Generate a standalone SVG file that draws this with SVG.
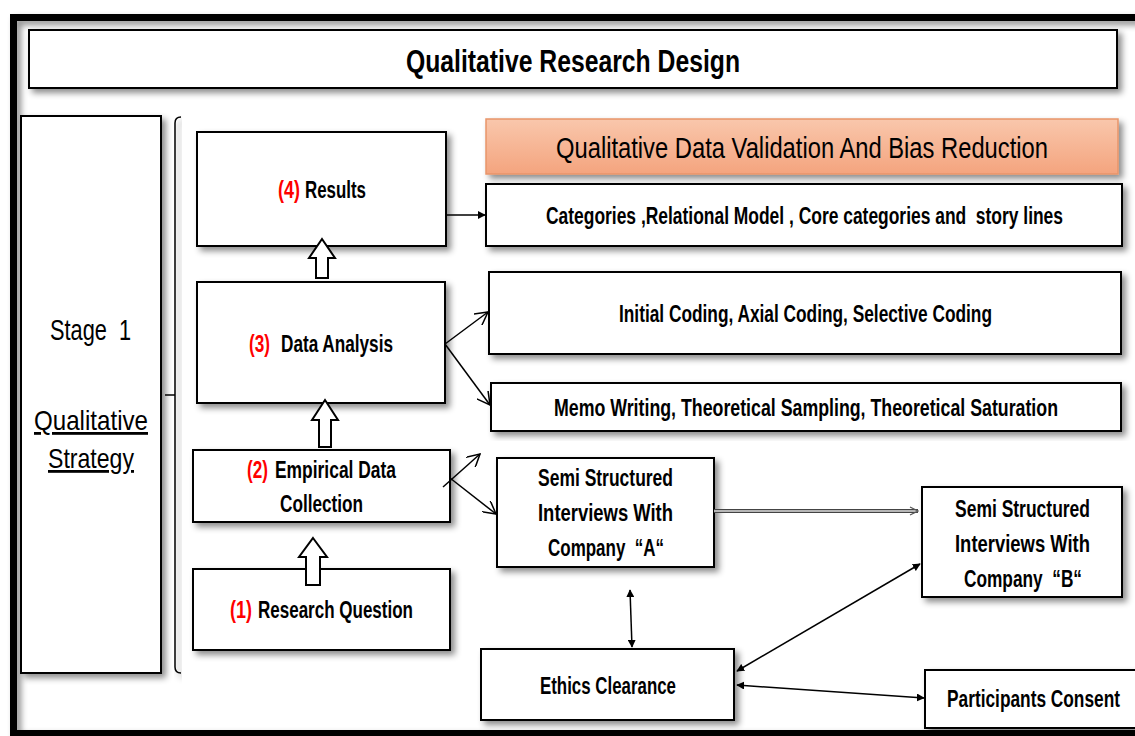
<svg xmlns="http://www.w3.org/2000/svg" width="1135" height="736" viewBox="0 0 1135 736">
<defs>
<style>
.box{fill:#fff;stroke:#000;stroke-width:2;filter:url(#sh)}
.t{font-family:"Liberation Sans Narrow","Liberation Sans",sans-serif;font-weight:bold;font-size:23px;fill:#000;white-space:pre}
.r{fill:#ff0000}
.n{font-weight:normal}
.ln{stroke:#000;stroke-width:1.5;fill:none}
.hol{fill:#fff;stroke:#000;stroke-width:2}
</style>
<filter id="sh" x="-10%" y="-10%" width="125%" height="130%">
<feDropShadow dx="4" dy="4" stdDeviation="3" flood-color="#000" flood-opacity="0.45"/>
</filter>
<linearGradient id="og" x1="0" y1="0" x2="0" y2="1">
<stop offset="0" stop-color="#f9c7ac"/>
<stop offset="1" stop-color="#f4a47e"/>
</linearGradient>
<marker id="fa" viewBox="0 0 10 10" refX="9" refY="5" markerWidth="8" markerHeight="8" markerUnits="userSpaceOnUse" orient="auto-start-reverse">
<path d="M0,0 L10,5 L0,10 z" fill="#000"/>
</marker>
<marker id="oa" viewBox="0 0 12 12" refX="11" refY="6" markerWidth="14" markerHeight="14" markerUnits="userSpaceOnUse" orient="auto">
<path d="M0,0 L11,6 L0,12" fill="none" stroke="#000" stroke-width="1.3"/>
</marker>
<marker id="da" viewBox="0 0 10 10" refX="9" refY="5" markerWidth="10" markerHeight="10" markerUnits="userSpaceOnUse" orient="auto">
<path d="M1,1 L9,5 L1,9" fill="none" stroke="#555" stroke-width="1.2"/>
</marker>
</defs>
<rect width="1135" height="736" fill="#fff"/>
<rect x="13.5" y="17.5" width="1140" height="716" fill="none" stroke="#000" stroke-width="7" filter="url(#sh)"/>

<g id="title">
<rect class="box" x="29" y="30" width="1088" height="58"/>
<text class="t" x="406" y="72" style="font-size:31px" textLength="334" lengthAdjust="spacingAndGlyphs">Qualitative Research Design</text>
</g>

<g id="stage1">
<rect class="box" x="21" y="116" width="140" height="557"/>
<text class="t n" x="50" y="340" style="font-size:29px" textLength="81" lengthAdjust="spacingAndGlyphs">Stage  1</text>
<text class="t n" x="34" y="430" style="font-size:28px" textLength="114" lengthAdjust="spacingAndGlyphs" text-decoration="underline">Qualitative</text>
<text class="t n" x="48" y="468" style="font-size:28px" textLength="86" lengthAdjust="spacingAndGlyphs" text-decoration="underline">Strategy</text>
</g>

<g id="bracket">
<path d="M181,117 Q175,117 175,123 L175,667 Q175,673 181,673" class="ln" stroke-width="2" filter="url(#sh)"/>
<line x1="165" y1="395" x2="175" y2="395" class="ln" stroke-width="2"/>
</g>

<g id="results">
<rect class="box" x="197" y="132" width="249" height="114"/>
<text class="t r" x="278" y="198" textLength="22" lengthAdjust="spacingAndGlyphs">(4)</text>
<text class="t" x="305" y="198" textLength="61" lengthAdjust="spacingAndGlyphs">Results</text>
</g>

<g id="data-analysis">
<rect class="box" x="197" y="282" width="248" height="121"/>
<text class="t r" x="249" y="352" textLength="21" lengthAdjust="spacingAndGlyphs">(3)</text>
<text class="t" x="281" y="352" textLength="112" lengthAdjust="spacingAndGlyphs">Data Analysis</text>
</g>

<g id="empirical">
<rect class="box" x="193" y="450" width="257" height="72"/>
<text class="t r" x="247" y="478" textLength="21" lengthAdjust="spacingAndGlyphs">(2)</text>
<text class="t" x="275" y="478" textLength="121" lengthAdjust="spacingAndGlyphs">Empirical Data</text>
<text class="t" x="280" y="512" textLength="83" lengthAdjust="spacingAndGlyphs">Collection</text>
</g>

<g id="research-question">
<rect class="box" x="193" y="569" width="257" height="81"/>
<text class="t r" x="230" y="618" textLength="22" lengthAdjust="spacingAndGlyphs">(1)</text>
<text class="t" x="258" y="618" textLength="155" lengthAdjust="spacingAndGlyphs">Research Question</text>
</g>

<g id="validation-header">
<rect x="486" y="119" width="632" height="55" fill="url(#og)" stroke="#e8956a" stroke-width="1.5" filter="url(#sh)"/>
<text class="t n" x="556" y="158" style="font-size:30px" textLength="492" lengthAdjust="spacingAndGlyphs">Qualitative Data Validation And Bias Reduction</text>
</g>

<g id="categories">
<rect class="box" x="486" y="184" width="636" height="62"/>
<text class="t" x="546" y="224" textLength="517" lengthAdjust="spacingAndGlyphs">Categories ,Relational Model , Core categories and  story lines</text>
</g>

<g id="coding">
<rect class="box" x="489" y="272" width="632" height="82"/>
<text class="t" x="619" y="322" textLength="373" lengthAdjust="spacingAndGlyphs">Initial Coding, Axial Coding, Selective Coding</text>
</g>

<g id="memo">
<rect class="box" x="491" y="383" width="630" height="48"/>
<text class="t" x="554" y="416" textLength="504" lengthAdjust="spacingAndGlyphs">Memo Writing, Theoretical Sampling, Theoretical Saturation</text>
</g>

<g id="interviews-a">
<rect class="box" x="497" y="458" width="217" height="109"/>
<text class="t" x="538" y="486" textLength="135" lengthAdjust="spacingAndGlyphs">Semi Structured</text>
<text class="t" x="538" y="521" textLength="135" lengthAdjust="spacingAndGlyphs">Interviews With</text>
<text class="t" x="548" y="556" textLength="116" lengthAdjust="spacingAndGlyphs">Company  “A“</text>
</g>

<g id="interviews-b">
<rect class="box" x="922" y="487" width="200" height="110"/>
<text class="t" x="955" y="517" textLength="135" lengthAdjust="spacingAndGlyphs">Semi Structured</text>
<text class="t" x="955" y="552" textLength="135" lengthAdjust="spacingAndGlyphs">Interviews With</text>
<text class="t" x="964" y="587" textLength="118" lengthAdjust="spacingAndGlyphs">Company  “B“</text>
</g>

<g id="ethics">
<rect class="box" x="481" y="649" width="253" height="71"/>
<text class="t" x="540" y="694" textLength="136" lengthAdjust="spacingAndGlyphs">Ethics Clearance</text>
</g>

<g id="consent">
<rect class="box" x="925" y="670" width="215" height="58"/>
<text class="t" x="947" y="707" textLength="173" lengthAdjust="spacingAndGlyphs">Participants Consent</text>
</g>

<g id="connectors">
<path class="hol" d="M322,239 L335,258 L328,258 L328,278 L316,278 L316,258 L309,258 Z"/>
<path class="hol" d="M325,400 L338,420 L331,420 L331,447 L319,447 L319,420 L312,420 Z"/>
<path class="hol" d="M313,538 L327,557 L320,557 L320,585 L306,585 L306,557 L299,557 Z"/>
<line class="ln" x1="446" y1="215" x2="485" y2="215" marker-end="url(#fa)"/>
<line class="ln" x1="445" y1="344" x2="488" y2="312" marker-end="url(#oa)"/>
<line class="ln" x1="445" y1="344" x2="490" y2="405" marker-end="url(#oa)"/>
<line class="ln" x1="443" y1="487" x2="480" y2="454" marker-end="url(#oa)"/>
<line class="ln" x1="450" y1="478" x2="496" y2="514" marker-end="url(#oa)"/>
<line x1="714" y1="511" x2="918" y2="511" stroke="#444" stroke-width="4"/>
<line x1="714" y1="511" x2="918" y2="511" stroke="#ddd" stroke-width="1.5" marker-end="url(#da)"/>
<line class="ln" x1="630" y1="590" x2="632" y2="647" marker-start="url(#fa)" marker-end="url(#fa)"/>
<line class="ln" x1="737" y1="671" x2="920" y2="564" marker-start="url(#fa)" marker-end="url(#fa)"/>
<line class="ln" x1="737" y1="685" x2="924" y2="698" marker-start="url(#fa)" marker-end="url(#fa)"/>
</g>
</svg>
